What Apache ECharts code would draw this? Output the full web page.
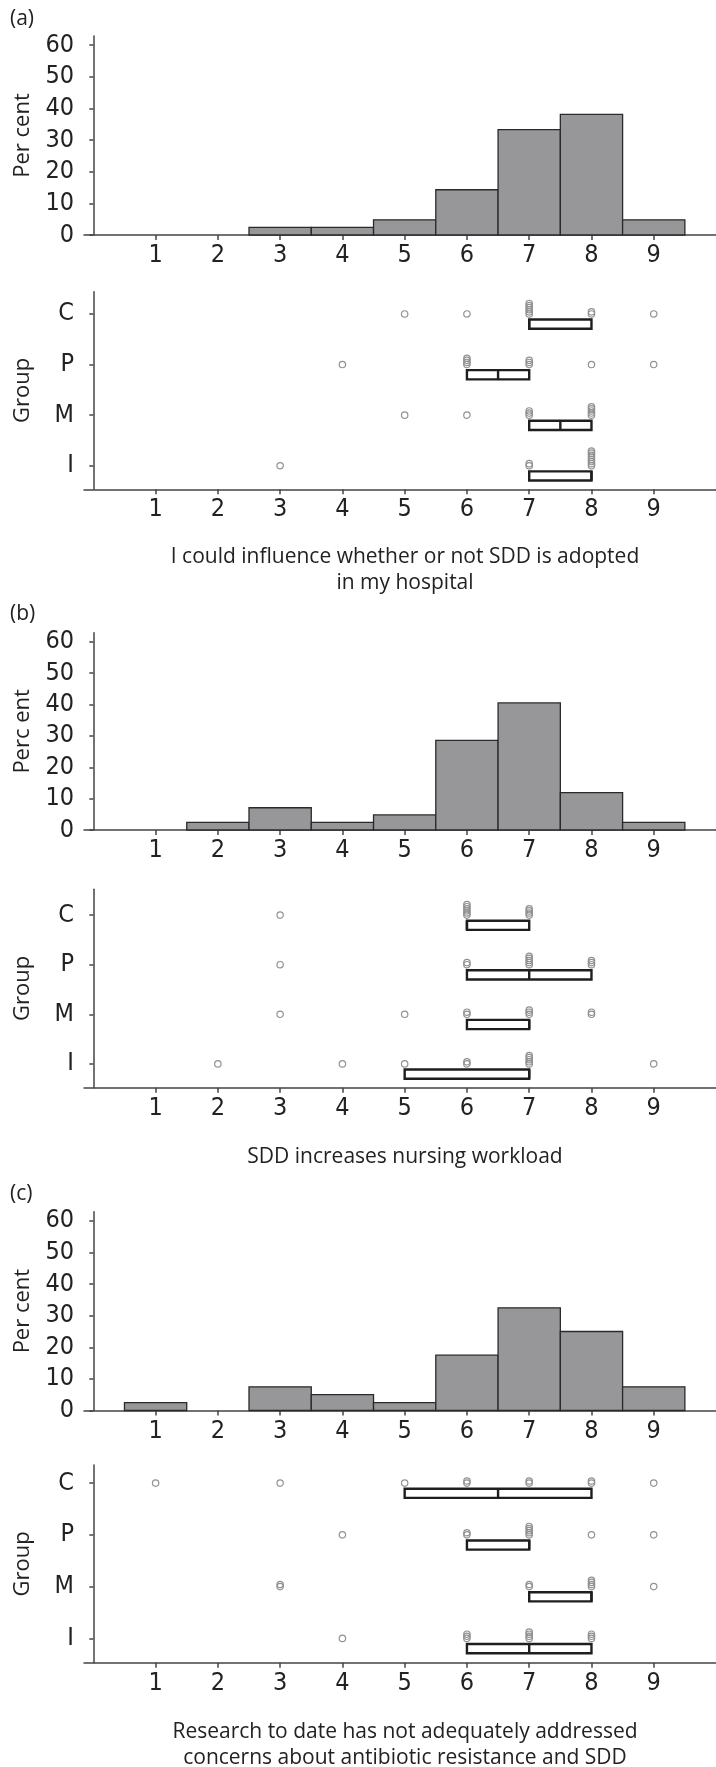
<!DOCTYPE html>
<html>
<head>
<meta charset="utf-8">
<script src="https://cdn.jsdelivr.net/npm/echarts@6/dist/echarts.min.js"></script>
<style>
html, body { margin: 0; padding: 0; background: #fff; }
#main { width: 716px; height: 1767px; }
</style>
</head>
<body>
<div id="main"></div>
<script>
// scale 1-9 and percent ticks
var scores = [1, 2, 3, 4, 5, 6, 7, 8, 9];
var pctTicks = [0, 10, 20, 30, 40, 50, 60];
var groupNames = ['I', 'M', 'P', 'C'];   // bottom to top
var groupTicks = [1, 2, 3, 4];

// histogram percentages per score
var pctA = [0, 0, 2.4, 2.4, 4.8, 14.3, 33.3, 38.1, 4.8];
var pctB = [0, 2.4, 7.1, 2.4, 4.8, 28.6, 40.5, 11.9, 2.4];
var pctC = [2.5, 0, 7.5, 5, 2.5, 17.5, 32.5, 25, 7.5];

// number of respondents per score, by group
var countsA_I = [0, 0, 1, 0, 0, 0, 2, 8, 0];
var countsA_M = [0, 0, 0, 0, 1, 1, 3, 5, 0];
var countsA_P = [0, 0, 0, 1, 0, 4, 3, 1, 1];
var countsA_C = [0, 0, 0, 0, 1, 1, 6, 2, 1];

var countsB_I = [0, 1, 0, 1, 1, 2, 5, 0, 1];
var countsB_M = [0, 0, 1, 0, 1, 2, 3, 2, 0];
var countsB_P = [0, 0, 1, 0, 0, 2, 5, 3, 0];
var countsB_C = [0, 0, 1, 0, 0, 6, 4, 0, 0];

var countsC_I = [0, 0, 0, 1, 0, 3, 4, 3, 0];
var countsC_M = [0, 0, 2, 0, 0, 0, 2, 4, 1];
var countsC_P = [0, 0, 0, 1, 0, 2, 5, 1, 1];
var countsC_C = [1, 0, 1, 0, 1, 2, 2, 2, 1];

// box [q1, median, q3] for I, M, P, C
var boxesA = [[7, 8, 8], [7, 7.5, 8], [6, 6.5, 7], [7, 7, 8]];
var boxesB = [[5, 7, 7], [6, 7, 7], [6, 7, 8], [6, 6, 7]];
var boxesC = [[6, 7, 8], [7, 8, 8], [6, 7, 7], [5, 6.5, 8]];

var fontTick = '"DejaVu Sans Condensed", "Open Sans", sans-serif';
var fontText = '"Open Sans", "Noto Sans", sans-serif';
var axisColor = '#444';

var panels = [
    { tag: '(a)', tagY: 19, yName: 'Per cent', hist: pctA,
      counts: [countsA_I, countsA_M, countsA_P, countsA_C], boxes: boxesA,
      title: 'I could influence whether or not SDD is adopted\nin my hospital', titleY: 570,
      histTop: 36, histH: 199, boxTop: 291.7, boxH: 197.6, gMin: 0.534, gMax: 4.44 },
    { tag: '(b)', tagY: 614, yName: 'Perc ent', hist: pctB,
      counts: [countsB_I, countsB_M, countsB_P, countsB_C], boxes: boxesB,
      title: 'SDD increases nursing workload', titleY: 1157,
      histTop: 632.7, histH: 197.3, boxTop: 889.3, boxH: 198.4, gMin: 0.52, gMax: 4.52 },
    { tag: '(c)', tagY: 1194, yName: 'Per cent', hist: pctC,
      counts: [countsC_I, countsC_M, countsC_P, countsC_C], boxes: boxesC,
      title: 'Research to date has not adequately addressed\nconcerns about antibiotic resistance and SDD', titleY: 1745,
      histTop: 1211.7, histH: 198.8, boxTop: 1465, boxH: 197.7, gMin: 0.53, gMax: 4.35 }
];

function xAxisFor(gi) {
    return {
        type: 'value', gridIndex: gi, min: -0.15, max: 10,
        splitLine: { show: false },
        axisLine: { show: true, lineStyle: { color: axisColor, width: 1.5 } },
        axisTick: { show: true, length: 5, customValues: scores, lineStyle: { color: axisColor, width: 1.5 } },
        axisLabel: { customValues: scores, margin: 8, fontSize: 25, color: '#222', fontFamily: fontTick }
    };
}

function histItem(params, api) {
    var x = api.value(0), v = api.value(1);
    if (!v) return null;
    var p0 = api.coord([x - 0.5, v]);
    var p1 = api.coord([x + 0.5, 0]);
    return {
        type: 'rect',
        shape: { x: p0[0], y: p0[1], width: p1[0] - p0[0], height: p1[1] - p0[1] },
        style: { fill: '#97979a', stroke: '#2a2a2a', lineWidth: 1.3 }
    };
}

function dotItem(params, api) {
    var x = api.value(0), g = api.value(1), n = api.value(2);
    var c = api.coord([x, g]);
    var kids = [];
    for (var k = 0; k < n; k++) {
        kids.push({ type: 'circle', shape: { cx: c[0], cy: c[1] - k * 2.1, r: 3.2 },
                    style: { fill: 'none', stroke: '#919191', lineWidth: 1.2 } });
    }
    return { type: 'group', children: kids };
}

function boxItem(params, api) {
    var q1 = api.value(0), g = api.value(1), md = api.value(2), q3 = api.value(3);
    var a = api.coord([q1, g]), b = api.coord([q3, g]), m = api.coord([md, g]);
    var top = a[1] + 5.6, h = 9.2;
    return { type: 'group', children: [
        { type: 'rect', shape: { x: a[0], y: top, width: b[0] - a[0], height: h },
          style: { fill: '#fff', stroke: '#1e1e1e', lineWidth: 2.4 } },
        { type: 'line', shape: { x1: m[0], y1: top, x2: m[0], y2: top + h },
          style: { stroke: '#1e1e1e', lineWidth: 2.4 } }
    ] };
}

var grids = [], xAxes = [], yAxes = [], series = [], graphics = [];

panels.forEach(function (p, i) {
    var gh = i * 2, gb = i * 2 + 1;
    grids.push({ left: 84, right: 0, top: p.histTop, height: p.histH });
    grids.push({ left: 84, right: 0, top: p.boxTop, height: p.boxH });
    xAxes.push(xAxisFor(gh));
    xAxes.push(xAxisFor(gb));

    yAxes.push({
        type: 'value', gridIndex: gh, min: 0, max: 62.9,
        name: p.yName, nameLocation: 'middle', nameGap: 50,
        nameTextStyle: { fontSize: 22, color: '#222', fontFamily: fontText },
        splitLine: { show: false },
        axisLine: { show: true, lineStyle: { color: axisColor, width: 1.5 } },
        axisTick: { show: true, length: 4, customValues: pctTicks, lineStyle: { color: axisColor, width: 1.5 } },
        axisLabel: { customValues: pctTicks, margin: 10, fontSize: 25, color: '#222', fontFamily: fontTick }
    });
    yAxes.push({
        type: 'value', gridIndex: gb, min: p.gMin, max: p.gMax,
        name: 'Group', nameLocation: 'middle', nameGap: 50,
        nameTextStyle: { fontSize: 22, color: '#222', fontFamily: fontText },
        splitLine: { show: false },
        axisLine: { show: true, lineStyle: { color: axisColor, width: 1.5 } },
        axisTick: { show: true, length: 4, customValues: groupTicks, lineStyle: { color: axisColor, width: 1.5 } },
        axisLabel: { customValues: groupTicks, margin: 10, fontSize: 25, color: '#222', fontFamily: fontTick,
                     formatter: function (v) { return groupNames[Math.round(v) - 1]; } }
    });

    series.push({
        type: 'custom', xAxisIndex: gh, yAxisIndex: gh, renderItem: histItem,
        encode: { x: 0, y: 1 }, silent: true,
        data: scores.map(function (s, k) { return [s, p.hist[k]]; })
    });

    var boxData = p.boxes.map(function (b, g) { return [b[0], g + 1, b[1], b[2]]; });
    series.push({
        type: 'custom', xAxisIndex: gb, yAxisIndex: gb, renderItem: boxItem,
        encode: { x: 0, y: 1 }, silent: true, data: boxData
    });

    var dotData = [];
    p.counts.forEach(function (arr, g) {
        arr.forEach(function (n, k) { if (n > 0) dotData.push([scores[k], g + 1, n]); });
    });
    series.push({
        type: 'custom', xAxisIndex: gb, yAxisIndex: gb, renderItem: dotItem,
        encode: { x: 0, y: 1 }, silent: true, data: dotData
    });

    graphics.push({ type: 'text', x: 10, y: p.tagY,
        style: { text: p.tag, fontSize: 21, fontFamily: fontText, fill: '#222', verticalAlign: 'middle' } });
    graphics.push({ type: 'text', x: 405, y: p.titleY,
        style: { text: p.title, fontSize: 21, lineHeight: 26, fontFamily: fontText, fill: '#222',
                 align: 'center', verticalAlign: 'middle' } });
});

var option = {
    backgroundColor: '#FFFFFF',
    animation: false,
    grid: grids,
    xAxis: xAxes,
    yAxis: yAxes,
    series: series,
    graphic: graphics
};

var myChart = echarts.init(document.getElementById('main'));
myChart.setOption(option);
window.addEventListener('resize', function () {
    myChart.resize();
});
</script>
</body>
</html>
